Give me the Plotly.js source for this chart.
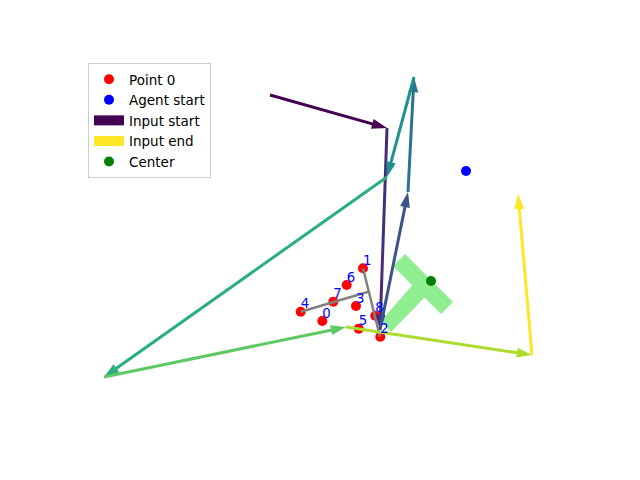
<!DOCTYPE html>
<html>
<head>
<meta charset="utf-8">
<script src="https://cdn.plot.ly/plotly-3.0.1.min.js"></script>
<style>html,body{margin:0;padding:0;background:#fff;}#chart{width:640px;height:480px;}</style>
</head>
<body>
<div id="chart"></div>
<script>
// ---- data ----
const pointIds = ["0", "1", "2", "3", "4", "5", "6", "7", "8"];
const pointX = [322.3, 363, 380.3, 356, 300.7, 358.7, 346.7, 333.3, 375.3];
const pointY = [321, 268.3, 336.7, 306, 311.7, 328.7, 285, 301.7, 315.7];

const spineX = [363, 380];
const spineY = [268.3, 336.7];
const branchX = [300.7, 368.5];
const branchY = [311.7, 291.7];

const pathX = [270, 387, 380, 408, 414, 387, 104, 346, 532, 518];
const pathY = [95, 128, 330, 192, 77, 177, 377, 327, 355, 194];

const barX = [405, 453, 441, 393];
const barY = [254, 302, 314, 266];
const stemX = [428, 391, 381, 415];
const stemY = [294, 332, 321, 282];

const agentX = [466];
const agentY = [171];
const centerX = [431];
const centerY = [281];

// ---- styles ----
const viridis = ["#440154", "#472d7b", "#3b528b", "#2c728e", "#21918c", "#28ae80", "#5ec962", "#addc30", "#fde725"];
const font = "DejaVu Sans, sans-serif";

const traces = [];
// green region
traces.push({
  x: barX.concat([barX[0], null], stemX, [stemX[0]]),
  y: barY.concat([barY[0], null], stemY, [stemY[0]]),
  mode: "lines", fill: "toself", fillcolor: "#90ee90",
  line: {width: 0, color: "rgba(0,0,0,0)"}, showlegend: false, hoverinfo: "skip"
});
// red points
traces.push({
  x: pointX, y: pointY, mode: "markers", name: "Point 0",
  marker: {color: "red", size: 10}, legendrank: 1
});
// skeleton lines
traces.push({
  x: spineX.concat([null], branchX), y: spineY.concat([null], branchY),
  mode: "lines", line: {color: "gray", width: 2.5}, showlegend: false
});
// arrows
for (let i = 0; i < pathX.length - 1; i++) {
  traces.push({
    x: [pathX[i], pathX[i + 1]], y: [pathY[i], pathY[i + 1]],
    mode: "lines+markers",
    line: {color: viridis[i], width: 3},
    marker: {symbol: "arrow", size: 16, angleref: "previous", color: viridis[i]},
    showlegend: false, hoverinfo: "skip"
  });
}
// labels
traces.push({
  x: pointX, y: pointY, text: pointIds, mode: "text", textposition: "top right",
  textfont: {family: font, size: 13.3, color: "blue"}, showlegend: false
});
// agent start
traces.push({
  x: agentX, y: agentY, mode: "markers", name: "Agent start",
  marker: {color: "blue", size: 10}, legendrank: 2
});
// legend-only input start/end
traces.push({
  x: [null], y: [null], mode: "lines", name: "Input start",
  line: {color: viridis[0], width: 10}, legendrank: 3
});
traces.push({
  x: [null], y: [null], mode: "lines", name: "Input end",
  line: {color: viridis[8], width: 10}, legendrank: 4
});
// center
traces.push({
  x: centerX, y: centerY, mode: "markers", name: "Center",
  marker: {color: "green", size: 10}, legendrank: 5
});

const layout = {
  width: 640, height: 480,
  margin: {l: 0, r: 0, t: 0, b: 0},
  paper_bgcolor: "#fff", plot_bgcolor: "#fff",
  xaxis: {range: [0, 640], visible: false, fixedrange: true},
  yaxis: {range: [480, 0], visible: false, fixedrange: true},
  showlegend: true,
  legend: {
    x: 88 / 640, y: 1 - 63 / 480, xanchor: "left", yanchor: "top",
    bgcolor: "rgba(255,255,255,0.8)", bordercolor: "#cccccc", borderwidth: 1,
    font: {family: font, size: 13.5, color: "#000"}
  }
};

Plotly.newPlot("chart", traces, layout, {staticPlot: true, displayModeBar: false});
</script>
</body>
</html>
